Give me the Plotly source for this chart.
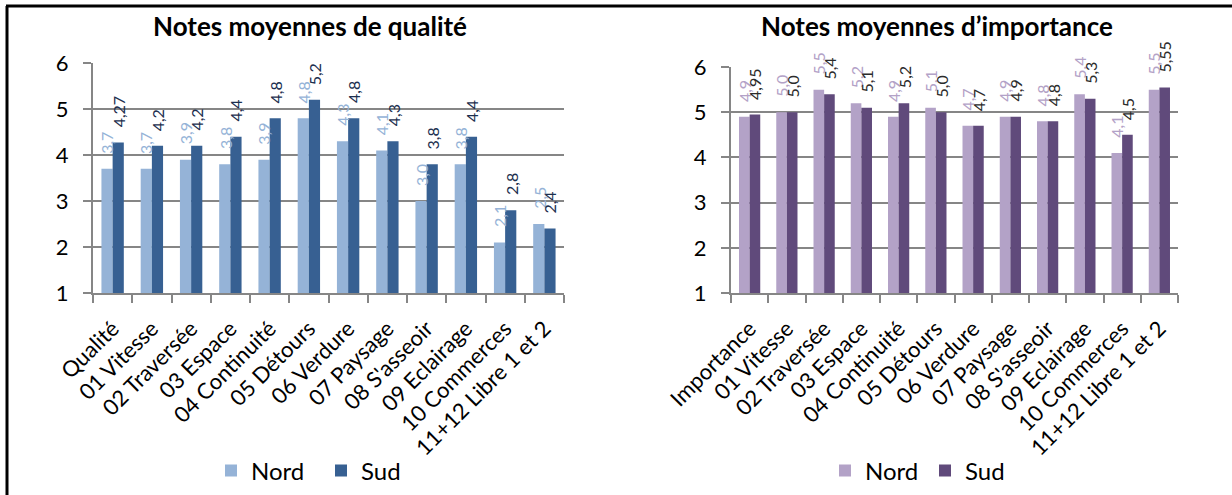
import plotly.graph_objects as go

# ---- data -------------------------------------------------------------
items = ["01 Vitesse", "02 Traversée", "03 Espace", "04 Continuité", "05 Détours",
         "06 Verdure", "07 Paysage", "08 S'asseoir", "09 Eclairage",
         "10 Commerces", "11+12 Libre 1 et 2"]
categories_qualite = ["Qualité"] + items
categories_importance = ["Importance"] + items

qualite_nord = [3.7, 3.7, 3.9, 3.8, 3.9, 4.8, 4.3, 4.1, 3.0, 3.8, 2.1, 2.5]
qualite_sud = [4.27, 4.2, 4.2, 4.4, 4.8, 5.2, 4.8, 4.3, 3.8, 4.4, 2.8, 2.4]
importance_nord = [4.9, 5.0, 5.5, 5.2, 4.9, 5.1, 4.7, 4.9, 4.8, 5.4, 4.1, 5.5]
importance_sud = [4.95, 5.0, 5.4, 5.1, 5.2, 5.0, 4.7, 4.9, 4.8, 5.3, 4.5, 5.55]

y_ticks = [1, 2, 3, 4, 5, 6]

# ---- layout constants (pixels) ----------------------------------------
W, H = 1232, 495
FONT = "Lato"
GRID = "#868686"
BARGAP = 0.43
LABEL_GAP = 14

LEFT_X = (93, 564)
RIGHT_X = (731, 1178)
LEFT_Y = (63, 293)    # top (value 6), bottom (value 1)
RIGHT_Y = (67, 293)

NORD_Q, SUD_Q = "#95B3D7", "#376092"
NORD_I, SUD_I = "#B3A2C7", "#604A7B"
SUD_Q_TXT, SUD_I_TXT = "#1C2F4F", "#2B2B2B"


def px_x(v):
    return v / W


def px_y(v):
    return 1 - v / H


def fmt(v):
    s = f"{v:.1f}" if abs(v * 10 - round(v * 10)) < 1e-9 else f"{v:.2f}"
    return s.replace(".", ",")


fig = go.Figure()

fig.add_trace(go.Bar(x=categories_qualite, y=qualite_nord, name="Nord",
                     marker=dict(color=NORD_Q, line=dict(width=0)),
                     xaxis="x", yaxis="y", legend="legend"))
fig.add_trace(go.Bar(x=categories_qualite, y=qualite_sud, name="Sud",
                     marker=dict(color=SUD_Q, line=dict(width=0)),
                     xaxis="x", yaxis="y", legend="legend"))
fig.add_trace(go.Bar(x=categories_importance, y=importance_nord, name="Nord",
                     marker=dict(color=NORD_I, line=dict(width=0)),
                     xaxis="x2", yaxis="y2", legend="legend2"))
fig.add_trace(go.Bar(x=categories_importance, y=importance_sud, name="Sud",
                     marker=dict(color=SUD_I, line=dict(width=0)),
                     xaxis="x2", yaxis="y2", legend="legend2"))

# value labels, rotated, sitting above each bar
annotations = []
charts = [
    (categories_qualite, qualite_nord, qualite_sud, "x", "y", NORD_Q, SUD_Q_TXT, LEFT_X),
    (categories_importance, importance_nord, importance_sud, "x2", "y2", NORD_I, SUD_I_TXT, RIGHT_X),
]
for cats, nord, sud, xr, yr, c_nord, c_sud, xspan in charts:
    cat_px = (xspan[1] - xspan[0]) / len(cats)
    bar_px = cat_px * (1 - BARGAP) / 2
    for vals, col, sh in ((nord, c_nord, -bar_px / 2), (sud, c_sud, bar_px / 2)):
        for c, v in zip(cats, vals):
            annotations.append(dict(
                x=c, y=v, xref=xr, yref=yr, text=fmt(v), showarrow=False,
                textangle=-90, xanchor="center", yanchor="bottom",
                xshift=sh, yshift=LABEL_GAP, borderpad=0,
                font=dict(family=FONT, size=16, color=col)))

# chart titles
annotations.append(dict(x=px_x(310), y=px_y(26), xref="paper", yref="paper",
                        text="<b>Notes moyennes de qualité</b>", showarrow=False,
                        xanchor="center", yanchor="middle",
                        font=dict(family=FONT, size=26, color="black")))
annotations.append(dict(x=px_x(937), y=px_y(26), xref="paper", yref="paper",
                        text="<b>Notes moyennes d’importance</b>", showarrow=False,
                        xanchor="center", yanchor="middle",
                        font=dict(family=FONT, size=26, color="black")))


def x_axis(dom, anchor):
    return dict(domain=dom, anchor=anchor, type="category", automargin=False,
                showline=True, linecolor=GRID, linewidth=2,
                ticks="outside", tickson="boundaries", ticklen=8,
                tickcolor=GRID, tickwidth=2, showgrid=False,
                ticklabelstandoff=12,
                tickangle=-45, tickfont=dict(family=FONT, size=22, color="black"))


def y_axis(dom, anchor):
    return dict(domain=dom, anchor=anchor, range=[1, 6.001], tickvals=y_ticks,
                automargin=False,
                showline=True, linecolor=GRID, linewidth=2,
                ticks="outside", ticklen=8, tickcolor=GRID, tickwidth=2,
                showgrid=True, gridcolor=GRID, gridwidth=2, zeroline=False,
                ticklabelstandoff=10,
                tickfont=dict(family=FONT, size=22, color="black"))


fig.update_layout(
    width=W, height=H,
    margin=dict(l=0, r=0, t=0, b=0, autoexpand=False),
    paper_bgcolor="white", plot_bgcolor="white",
    barmode="group", bargap=BARGAP, bargroupgap=0,
    font=dict(family=FONT, color="black"),
    xaxis=x_axis([px_x(LEFT_X[0]), px_x(LEFT_X[1])], "y"),
    yaxis=y_axis([px_y(LEFT_Y[1]), px_y(LEFT_Y[0])], "x"),
    xaxis2=x_axis([px_x(RIGHT_X[0]), px_x(RIGHT_X[1])], "y2"),
    yaxis2=y_axis([px_y(RIGHT_Y[1]), px_y(RIGHT_Y[0])], "x2"),
    legend=dict(orientation="h", x=px_x(211), y=px_y(471), xanchor="left", yanchor="middle",
                entrywidth=65, entrywidthmode="pixels",
                font=dict(family=FONT, size=24, color="black"), bgcolor="rgba(0,0,0,0)"),
    legend2=dict(orientation="h", x=px_x(825), y=px_y(471), xanchor="left", yanchor="middle",
                 entrywidth=55, entrywidthmode="pixels",
                 font=dict(family=FONT, size=24, color="black"), bgcolor="rgba(0,0,0,0)"),
    annotations=annotations,
    shapes=[
        dict(type="line", xref="paper", yref="paper", x0=px_x(6), x1=1,
             y0=px_y(6), y1=px_y(6), line=dict(color="black", width=3)),
        dict(type="line", xref="paper", yref="paper", x0=px_x(7), x1=px_x(7),
             y0=0, y1=px_y(6), line=dict(color="black", width=3)),
    ],
    hovermode=False,
)

fig.write_html("out.html")
